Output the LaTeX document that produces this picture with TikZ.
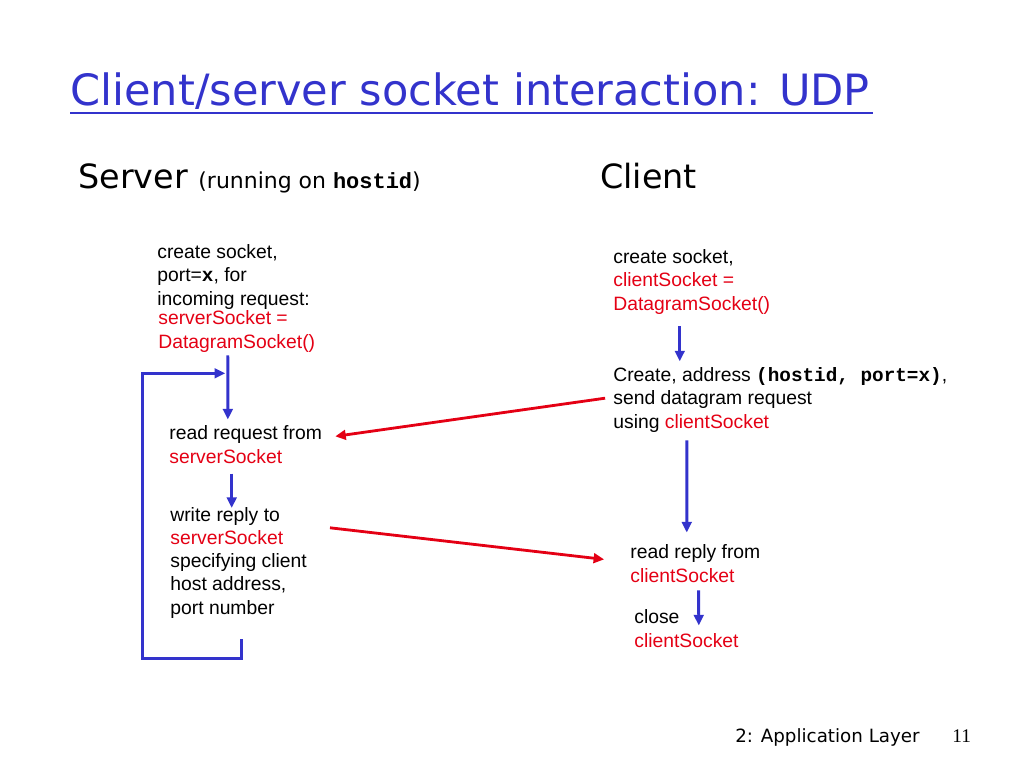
\documentclass[tikz,border=0pt]{standalone}
\usepackage{fontspec}
\setmainfont{Liberation Sans}
\setmonofont{Liberation Mono}
\newfontfamily\slidefont{DejaVu Sans}
\newfontfamily\pagefont{Liberation Serif}
\usetikzlibrary{arrows.meta}
\definecolor{udpblue}{RGB}{51,51,204}
\definecolor{sockred}{RGB}{228,0,20}
\newcommand{\sock}[1]{\textcolor{sockred}{#1}}
\newcommand{\code}[1]{\texttt{\bfseries #1}}

\begin{document}
\begin{tikzpicture}[x=0.02cm,y=-0.02cm,
  txt/.style={anchor=base west,inner sep=0pt,align=left,
    font=\fontsize{11}{13.2}\selectfont},
  head/.style={anchor=base west,inner sep=0pt,font=\slidefont\fontsize{19}{23}\selectfont},
  flow/.style={draw=udpblue,line width=1.7pt,-{Triangle[width=5.5pt,length=6pt]}},
  msg/.style={draw=sockred,line width=1.6pt,-{Triangle[width=5.5pt,length=6pt]}},
  ]
\useasboundingbox (0,0) rectangle (1024,768);

\node [anchor=base west,inner sep=0pt,text=udpblue] (title) at (70,105)
  {\resizebox{455pt}{!}{\slidefont Client/server socket interaction: UDP}};
\draw [udpblue,line width=1.7pt] (70,113) -- (873,113);

\node [head] (server) at (78,188)
  {Server {\fontsize{12.5}{15}\selectfont (running on \code{hostid})}};
\node [head] (client) at (600,188) {Client};

% server side (base = baseline of the last line)
\node [txt] (srvcreate) at (157,305) {create socket,\\port=\code{x}, for\\incoming request:};
\node [txt,text=sockred] (srvsock) at (158,348) {serverSocket =\\DatagramSocket()};
\node [txt] (readreq) at (169,463) {read request from\\\sock{serverSocket}};
\node [txt] (wrreply) at (170,614) {write reply to\\\sock{serverSocket}\\specifying client\\host address,\\port number};

% client side
\node [txt] (clicreate) at (613,310) {create socket,\\\sock{clientSocket =}\\\sock{DatagramSocket()}};
\node [txt] (clisend) at (613,428) {Create, address \code{(hostid, port=x)},\\send datagram request\\using \sock{clientSocket}};
\node [txt] (clirecv) at (630,582) {read reply from\\\sock{clientSocket}};
\node [txt] (cliclose) at (634,647) {close\\\sock{clientSocket}};

\draw [flow] ([shift={(39.7pt,-1.7pt)}]srvsock.south west)
  -- coordinate[pos=0.28] (loopin) ([shift={(33.5pt,3.4pt)}]readreq.north west);
\coordinate (wrin) at ([yshift=-0.6pt]wrreply.north west);
\draw [flow] ([shift={(35.7pt,-5.7pt)}]readreq.south west) coordinate (rdout)
  -- (rdout |- wrin);
\draw [flow] ([shift={(40.8pt,-11.9pt)}]wrreply.south west) -- ++(0,19) -- ++(-99,0)
  |- ([xshift=-1.5pt]loopin);

\draw [flow] ([shift={(38pt,-6.8pt)}]clicreate.south west) -- ([shift={(38pt,3.4pt)}]clisend.north west);
\draw [flow] ([shift={(42pt,-4.5pt)}]clisend.south west) -- ([shift={(32.3pt,6.8pt)}]clirecv.north west);
\draw [flow] ([shift={(39pt,-4.5pt)}]clirecv.south west) -- ([shift={(36.9pt,-9.1pt)}]cliclose.north west);

\draw [msg] ([shift={(-4.5pt,-17.6pt)}]clisend.north west) -- ([shift={(7.4pt,-6.2pt)}]readreq.north east);
\draw [msg] ([shift={(13pt,-11.9pt)}]wrreply.north east) -- ([shift={(-14.7pt,-8.5pt)}]clirecv.north west);

\node [anchor=base west,inner sep=0pt,font=\slidefont\fontsize{10.4}{12}\selectfont] (chapter) at (735,742) {2: Application Layer};
\node [anchor=base west,inner sep=0pt,font=\pagefont\fontsize{11}{13}\selectfont] (pagenum) at (952,742) {11};

\end{tikzpicture}
\end{document}
